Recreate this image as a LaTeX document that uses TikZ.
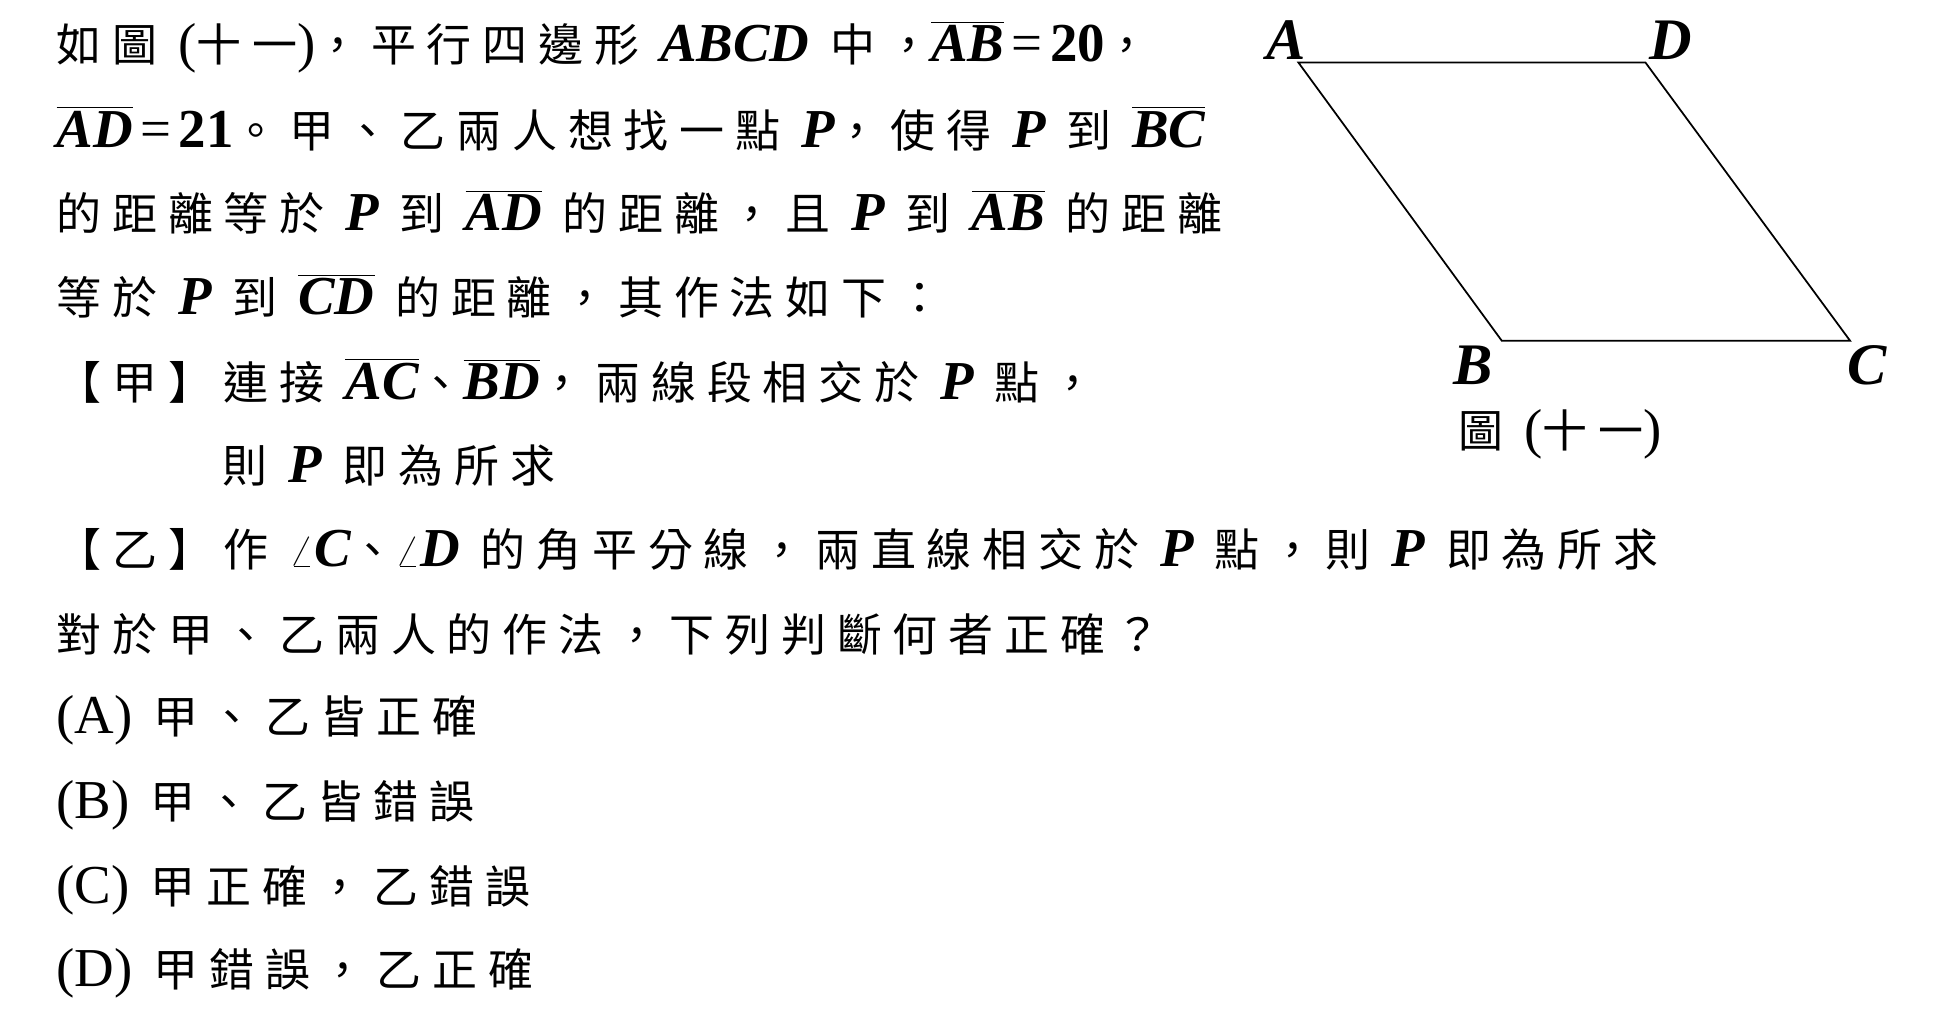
\documentclass[tikz,border=0pt]{standalone}
\usepackage{fontspec}
\setmainfont{Noto Sans CJK TC}[LetterSpace=24]
\newfontfamily\en{Liberation Serif}[Scale=1.22]
\newcommand\vb[1]{{\en\bfseries\itshape #1}}
\newcommand\num[1]{{\en\bfseries #1}}
\newcommand\seg[1]{$\overline{\mbox{\en\bfseries\itshape #1}}$}
\usetikzlibrary{positioning}
\tikzset{line/.style = {anchor = west, inner sep = 0pt, font = \fontsize{20.5}{24}\selectfont},
         vlab/.style = {font = \fontsize{22}{24}\selectfont\en\bfseries\itshape},
         side/.style = {thick, line join = miter}}

\begin{document}
\begin{tikzpicture}[x = 0.02cm, y = -0.02cm]
	\useasboundingbox (0,0) rectangle (1550,819);
	
	\node[line](l1) at (45,38){如圖 {\en(}十一{\en)}，平行四邊形 \vb{ABCD} 中，\seg{AB}\,{\en=}\,\num{20}，};
	\node[line](l2) at (45,103){\seg{AD}\,{\en=}\,\num{21}。甲、乙兩人想找一點 \vb{P}，使得 \vb{P} 到 \seg{BC}};
	\node[line](l3) at (45,170){的距離等於 \vb{P} 到 \seg{AD} 的距離，且 \vb{P} 到 \seg{AB} 的距離};
	\node[line](l4) at (45,237){等於 \vb{P} 到 \seg{CD} 的距離，其作法如下：};
	\node[line](l5) at (45,305){【甲】連接 \seg{AC}、\seg{BD}，兩線段相交於 \vb{P} 點，};
	\node[line](l6) at (178,373){則 \vb{P} 即為所求};
	\node[line](l7) at (45,440){【乙】作 {\en$\angle$\bfseries\itshape C}、{\en$\angle$\bfseries\itshape D} 的角平分線，兩直線相交於 \vb{P} 點，則 \vb{P} 即為所求};
	\node[line](l8) at (45,508){對於甲、乙兩人的作法，下列判斷何者正確？};
	\node[line](l9) at (45,577){{\en (A)} 甲、乙皆正確};
	\node[line](l10) at (45,645){{\en (B)} 甲、乙皆錯誤};
	\node[line](l11) at (45,713){{\en (C)} 甲正確，乙錯誤};
	\node[line](l12) at (45,780){{\en (D)} 甲錯誤，乙正確};
	
	\coordinate (A) at (1040,50);
	\coordinate (D) at (1318,50);
	\coordinate (B) at (1203,273);
	\coordinate (C) at (1482,273);
	\draw[side] (A) -- (D) -- (C) -- (B) -- cycle;
	
	\node[vlab](la) at (1030,32){A};
	\node[vlab](ld) at (1338,32){D};
	\node[vlab](lb) at (1180,293){B};
	\node[vlab](lc) at (1496,293){C};
	\node[line](cap) at (1168,348){圖 {\en(}十一{\en)}};
\end{tikzpicture}
\end{document}
